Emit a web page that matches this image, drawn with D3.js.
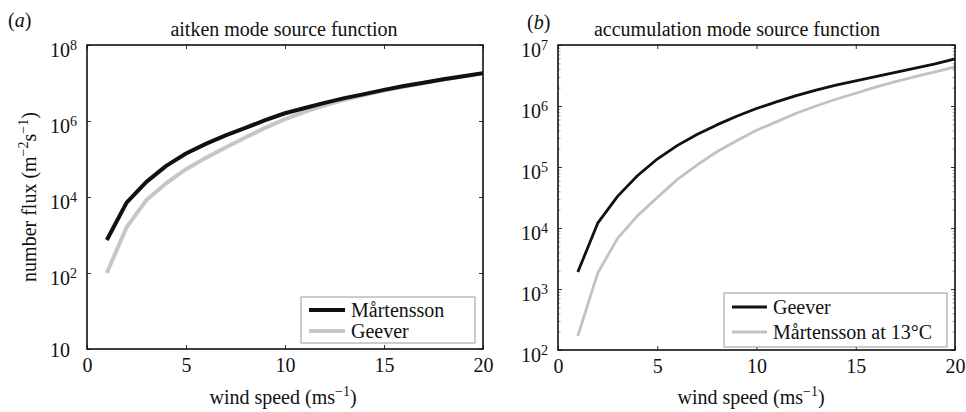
<!DOCTYPE html>
<html><head><meta charset="utf-8">
<script src="https://cdn.jsdelivr.net/npm/d3@7"></script>
<style>
body{margin:0;background:#fff}
svg{display:block}
text{font-family:"Liberation Serif","Times New Roman",serif;fill:#111}
</style>
</head><body>
<svg id="c" width="966" height="412"></svg>
<script>
// ---- data ----
const windSpeed = [1,2,3,4,5,6,7,8,9,10,11,12,13,14,15,16,17,18,19,20];
// (a) aitken mode source function
const aitkenMartensson = [740,7100,2.5e4,6.6e4,1.4e5,2.5e5,4.2e5,6.6e5,1.05e6,1.6e6,2.2e6,3.0e6,4.0e6,5.1e6,6.6e6,8.3e6,1.02e7,1.26e7,1.51e7,1.82e7];
const aitkenGeever     = [100,1600,8300,2.3e4,5.4e4,1.07e5,2.0e5,3.7e5,6.6e5,1.12e6,1.74e6,2.6e6,3.6e6,4.8e6,6.3e6,7.9e6,1.0e7,1.23e7,1.48e7,1.78e7];
// (b) accumulation mode source function
const accumGeever        = [1900,1.2e4,3.3e4,7.2e4,1.35e5,2.24e5,3.4e5,4.9e5,6.8e5,9.1e5,1.17e6,1.48e6,1.82e6,2.19e6,2.57e6,3.02e6,3.55e6,4.17e6,4.9e6,5.9e6];
const accumMartensson13  = [170,1820,6760,1.58e4,3.16e4,6.2e4,1.07e5,1.78e5,2.7e5,4.0e5,5.5e5,7.6e5,1.0e6,1.29e6,1.62e6,2.04e6,2.51e6,3.02e6,3.63e6,4.37e6];
// ticks
const xTicks = [0,5,10,15,20];
const aitkenYTicks = [1,1e2,1e4,1e6,1e8];
const aitkenYTickExps = ["","2","4","6","8"];   // bottom label is printed "10" in the original
const accumYTicks = [1e2,1e3,1e4,1e5,1e6,1e7];
const accumYTickExps = ["2","3","4","5","6","7"];
// labels
const panelLetters = ["a","b"];
const panelTitles = ["aitken mode source function","accumulation mode source function"];
const aitkenLegend = ["Mårtensson","Geever"];
const accumLegend = ["Geever","Mårtensson at 13°C"];

const svg = d3.select("#c");
const FONT = '"Liberation Serif","Times New Roman",serif';

function panel(o){
  const x = d3.scaleLinear().domain([0,20]).range([o.left,o.right]);
  const y = d3.scaleLog().domain(o.yDomain).range([o.bottom,o.top]);
  const g = svg.append("g");

  // minor ticks
  if (o.minor){
    const minor = y.ticks().filter(v=>Math.abs(Math.log10(v)-Math.round(Math.log10(v)))>1e-9);
    [[d3.axisLeft, o.left],[d3.axisRight, o.right]].forEach(([ax,pos])=>{
      const a = g.append("g").attr("transform",`translate(${pos},0)`)
        .call(ax(y).tickValues(minor).tickSize(-2.5).tickFormat(""));
      a.select(".domain").remove();
      a.selectAll("line").attr("stroke","#888").attr("stroke-width",0.8);
    });
  }

  // series (drawn last-first so first legend entry is on top)
  o.series.slice().reverse().forEach(s=>{
    g.append("path")
      .datum(windSpeed.map((w,i)=>[w,s.values[i]]))
      .attr("fill","none").attr("stroke",s.color).attr("stroke-width",s.width)
      .attr("stroke-linejoin","round")
      .attr("d", d3.line().x(d=>x(d[0])).y(d=>y(d[1])));
  });

  // axes
  const bottom = g.append("g").attr("transform",`translate(0,${o.bottom})`)
    .call(d3.axisBottom(x).tickValues(xTicks).tickSize(-4).tickPadding(9).tickFormat(d3.format("d")));
  const top = g.append("g").attr("transform",`translate(0,${o.top})`)
    .call(d3.axisTop(x).tickValues(xTicks).tickSize(-4).tickFormat(""));
  const left = g.append("g").attr("transform",`translate(${o.left},0)`)
    .call(d3.axisLeft(y).tickValues(o.yTicks).tickSize(-4).tickFormat(""));
  const right = g.append("g").attr("transform",`translate(${o.right},0)`)
    .call(d3.axisRight(y).tickValues(o.yTicks).tickSize(-4).tickFormat(""));
  [bottom,top,left,right].forEach(a=>{
    a.select(".domain").remove();
    a.attr("font-family",FONT);
    a.selectAll("line").attr("stroke","#333").attr("stroke-width",1);
  });
  bottom.selectAll("text").attr("font-family",FONT).attr("font-size",20).attr("fill","#111");

  left.selectAll(".tick").each(function(d,i){
    const e = o.yExps[i];
    const t = d3.select(this).append("text")
      .attr("x",-37).attr("y", e ? 11 : 7.5)
      .attr("text-anchor","start").attr("font-family",FONT).attr("font-size",20).attr("fill","#111")
      .text("10");
    if (e) t.append("tspan").attr("dy",-7).attr("font-size",14).text(e);
  });

  // frame
  g.append("rect").attr("x",o.left).attr("y",o.top)
    .attr("width",o.right-o.left).attr("height",o.bottom-o.top)
    .attr("fill","none").attr("stroke","#111").attr("stroke-width",1.6);

  // title
  g.append("text").attr("x",o.titleX).attr("y",36).attr("text-anchor","middle")
    .attr("font-size",20).text(o.title);
  // panel letter
  const L = g.append("text").attr("x",o.letterX).attr("y",o.letterY).attr("font-size",20);
  L.append("tspan").text("(");
  L.append("tspan").attr("font-style","italic").text(o.letter);
  L.append("tspan").text(")");

  // x axis title
  const xt = g.append("text").attr("x",o.xTitleX).attr("y",404).attr("text-anchor","middle").attr("font-size",20);
  xt.append("tspan").text("wind speed (ms");
  xt.append("tspan").attr("dy",-8).attr("font-size",14).text("−1");
  xt.append("tspan").attr("dy",8).text(")");

  // legend
  const lg = g.append("g");
  lg.append("rect").attr("x",o.legend.x).attr("y",o.legend.y).attr("width",o.legend.w).attr("height",o.legend.h)
    .attr("fill","#fff").attr("stroke","#999").attr("stroke-width",1);
  o.series.forEach((s,i)=>{
    const ly = o.legend.y + o.legend.row0 + i*o.legend.dy;
    lg.append("line").attr("x1",o.legend.x+8).attr("x2",o.legend.x+8+o.legend.len)
      .attr("y1",ly).attr("y2",ly).attr("stroke",s.color).attr("stroke-width",s.width);
    lg.append("text").attr("x",o.legend.x+14+o.legend.len).attr("y",ly+7)
      .attr("font-size",20).text(s.name);
  });
}

panel({
  left:87, right:483, top:45, bottom:349, yDomain:[1,1e8],
  yTicks:aitkenYTicks, yExps:aitkenYTickExps, minor:false,
  series:[
    {name:aitkenLegend[0], values:aitkenMartensson, color:"#111", width:4},
    {name:aitkenLegend[1], values:aitkenGeever, color:"#c6c6c6", width:4}
  ],
  title:panelTitles[0], titleX:284, letter:panelLetters[0], letterX:8, letterY:27,
  xTitleX:283,
  legend:{x:301, y:297, w:174, h:46, row0:13, dy:21, len:36}
});

panel({
  left:558, right:955, top:45, bottom:350, yDomain:[1e2,1e7],
  yTicks:accumYTicks, yExps:accumYTickExps, minor:true,
  series:[
    {name:accumLegend[0], values:accumGeever, color:"#111", width:2.8},
    {name:accumLegend[1], values:accumMartensson13, color:"#c2c2c2", width:2.8}
  ],
  title:panelTitles[1], titleX:737, letter:panelLetters[1], letterX:527, letterY:29,
  xTitleX:751,
  legend:{x:724, y:293, w:223, h:54, row0:14, dy:25, len:35}
});

// y axis title (panel a)
const yt = svg.append("text").attr("transform","translate(36,197) rotate(-90)")
  .attr("text-anchor","middle").attr("font-size",20);
yt.append("tspan").text("number flux (m");
yt.append("tspan").attr("dy",-8).attr("font-size",14).text("−2");
yt.append("tspan").attr("dy",8).text("s");
yt.append("tspan").attr("dy",-8).attr("font-size",14).text("−1");
yt.append("tspan").attr("dy",8).text(")");
</script>
</body></html>
